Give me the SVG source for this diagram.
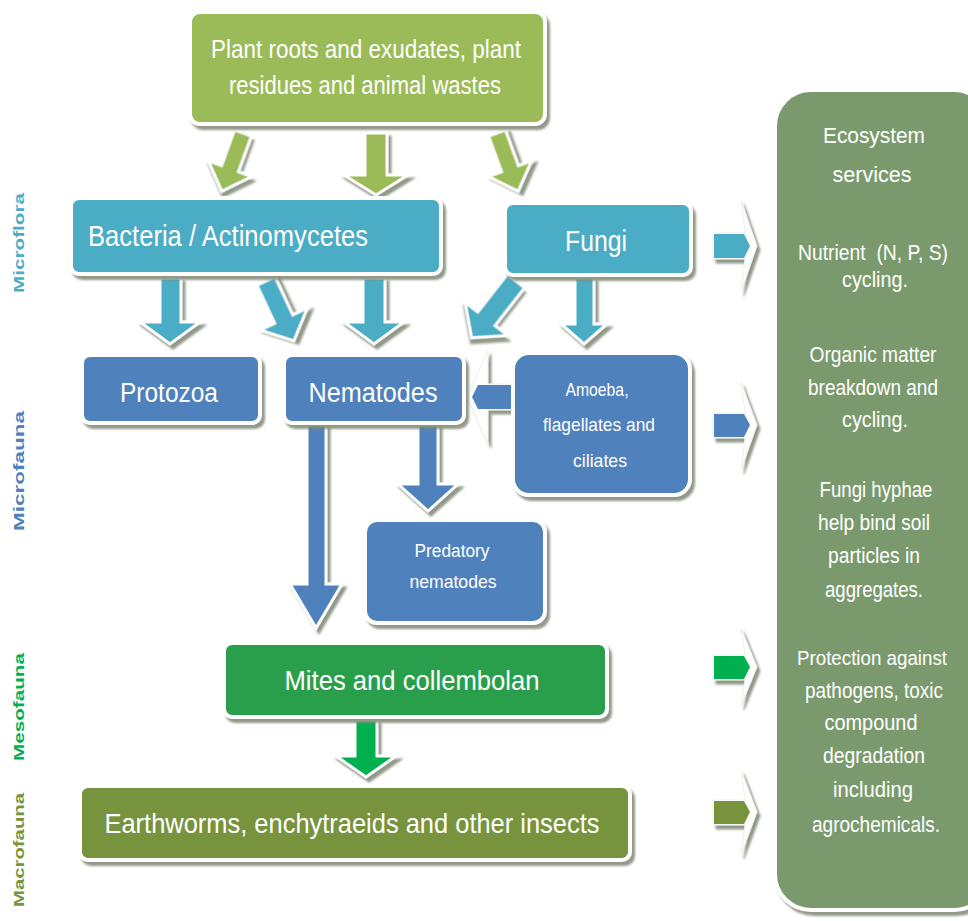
<svg xmlns="http://www.w3.org/2000/svg" width="968" height="921" viewBox="0 0 968 921">
<defs>
<filter id="sh" x="-10%" y="-10%" width="130%" height="130%">
<feDropShadow dx="3" dy="4" stdDeviation="1" flood-color="#7f8775" flood-opacity="0.85"/>
</filter>
</defs>
<style>
.box{stroke:#ffffff;stroke-width:4;filter:url(#sh)}
.arr{stroke:#ffffff;stroke-width:3;stroke-linejoin:miter;filter:url(#sh)}
.hd{fill:#ffffff;stroke:#eef0ea;stroke-width:1;filter:url(#sh)}
.t{font-family:"Liberation Sans",Arial,sans-serif;fill:#ffffff;text-anchor:middle}
.side{font-family:"Liberation Sans",Arial,sans-serif;font-weight:bold;font-size:15px;text-anchor:middle}
.g1{fill:#9BBB59}.c1{fill:#4BACC6}.b1{fill:#4F81BD}.m1{fill:#2A9F4B}.m2{fill:#00B050}.e1{fill:#77933C}.s1{fill:#7A9A6E}
</style>
<rect width="968" height="921" fill="#ffffff"/>

<g id="side-labels">
<text class="side" fill="#4BACC6" transform="translate(24,243) rotate(-90)" textLength="100" lengthAdjust="spacingAndGlyphs">Microflora</text>
<text class="side" fill="#4F81BD" transform="translate(24,471) rotate(-90)" textLength="120" lengthAdjust="spacingAndGlyphs">Microfauna</text>
<text class="side" fill="#00B050" transform="translate(24,707) rotate(-90)" textLength="108" lengthAdjust="spacingAndGlyphs">Mesofauna</text>
<text class="side" fill="#77933C" transform="translate(24,850) rotate(-90)" textLength="114" lengthAdjust="spacingAndGlyphs">Macrofauna</text>
</g>

<g id="connectors">
<polygon class="arr g1" transform="translate(243,133) rotate(20)" points="-9,0 9,0 9,38 23,38 0,62 -23,38 -9,38"/>
<polygon class="arr g1" points="365,133 387,133 387,175 408,175 376,195 344,175 365,175"/>
<polygon class="arr g1" transform="translate(497,133) rotate(-20)" points="-9,0 9,0 9,38 23,38 0,62 -23,38 -9,38"/>
<polygon class="arr c1" points="160,278 181,278 181,322 200,322 170,344 140,322 160,322"/>
<polygon class="arr c1" transform="translate(266,281) rotate(-25)" points="-10,0 10,0 10,42 26,42 0,66 -26,42 -10,42"/>
<polygon class="arr c1" points="363,278 385,278 385,322 404,322 374,344 344,322 363,322"/>
<polygon class="arr c1" transform="translate(516,281) rotate(38)" points="-11,0 11,0 11,48 27,48 0,72 -27,48 -11,48"/>
<polygon class="arr c1" points="575,278 594,278 594,324 607,324 584,344 561,324 575,324"/>
<polygon class="hd" points="515,384 488,384 488,350 467,397 488,444 488,410 515,410"/>
<polygon class="b1" points="515,385 478,385 472,397 478,409 515,409"/>
<polygon class="arr b1" points="307,425 326,425 326,584 342,584 316,628 290,584 307,584"/>
<polygon class="arr b1" points="418,425 438,425 438,484 458,484 428,511 398,484 418,484"/>
<polygon class="arr m2" points="355,720 377,720 377,756 396,756 366,777 336,756 355,756"/>
<polygon class="hd" points="713,233 745,233 741,200 757,246 741,292 745,259 713,259"/>
<polygon class="c1" points="714,234 744,234 750,246 744,258 714,258"/>
<polygon class="hd" points="713,413 745,413 741,382 757,425 741,470 745,438 713,438"/>
<polygon class="b1" points="714,414 744,414 750,425 744,437 714,437"/>
<polygon class="hd" points="713,655 745,655 741,628 757,667 741,706 745,680 713,680"/>
<polygon class="m2" points="714,656 744,656 750,667 744,679 714,679"/>
<polygon class="hd" points="713,800 745,800 741,770 757,812 741,855 745,825 713,825"/>
<polygon class="e1" points="714,801 744,801 750,812 744,824 714,824"/>
</g>

<g id="plant">
<rect class="box g1" x="190" y="12" width="355" height="112" rx="10"/>
<text class="t" x="366" y="58" font-size="25" textLength="310" lengthAdjust="spacingAndGlyphs">Plant roots and exudates, plant</text>
<text class="t" x="365" y="94" font-size="25" textLength="272" lengthAdjust="spacingAndGlyphs">residues and animal wastes</text>
</g>

<g id="bacteria">
<rect class="box c1" x="71" y="198" width="370" height="76" rx="8"/>
<text class="t" x="88" y="246" font-size="29" style="text-anchor:start" textLength="280" lengthAdjust="spacingAndGlyphs">Bacteria / Actinomycetes</text>
</g>

<g id="fungi">
<rect class="box c1" x="505" y="203" width="186" height="72" rx="8"/>
<text class="t" x="596" y="251" font-size="29" textLength="62" lengthAdjust="spacingAndGlyphs">Fungi</text>
</g>

<g id="protozoa">
<rect class="box b1" x="82" y="355" width="178" height="68" rx="8"/>
<text class="t" x="169" y="402" font-size="27" textLength="98" lengthAdjust="spacingAndGlyphs">Protozoa</text>
</g>

<g id="nematodes">
<rect class="box b1" x="284" y="355" width="180" height="68" rx="8"/>
<text class="t" x="373" y="402" font-size="27" textLength="129" lengthAdjust="spacingAndGlyphs">Nematodes</text>
</g>

<g id="amoeba">
<rect class="box b1" x="513" y="353" width="177" height="142" rx="16"/>
<text class="t" x="597" y="396" font-size="19" textLength="63" lengthAdjust="spacingAndGlyphs">Amoeba,</text>
<text class="t" x="599" y="431" font-size="19" textLength="112" lengthAdjust="spacingAndGlyphs">flagellates and</text>
<text class="t" x="600" y="467" font-size="19" textLength="54" lengthAdjust="spacingAndGlyphs">ciliates</text>
</g>

<g id="predatory">
<rect class="box b1" x="365" y="520" width="180" height="103" rx="12"/>
<text class="t" x="452" y="557" font-size="19" textLength="75" lengthAdjust="spacingAndGlyphs">Predatory</text>
<text class="t" x="453" y="588" font-size="19" textLength="87" lengthAdjust="spacingAndGlyphs">nematodes</text>
</g>

<g id="mites">
<rect class="box m1" x="224" y="643" width="383" height="74" rx="8"/>
<text class="t" x="412" y="690" font-size="28" textLength="255" lengthAdjust="spacingAndGlyphs">Mites and collembolan</text>
</g>

<g id="earthworms">
<rect class="box e1" x="80" y="786" width="550" height="74" rx="8"/>
<text class="t" x="352" y="833" font-size="28" textLength="495" lengthAdjust="spacingAndGlyphs">Earthworms, enchytraeids and other insects</text>
</g>

<g id="ecosystem">
<rect class="box s1" x="775" y="90" width="215" height="820" rx="36"/>
<g class="t" font-size="22">
<text x="874" y="143" textLength="102" lengthAdjust="spacingAndGlyphs">Ecosystem</text>
<text x="872" y="182" textLength="79" lengthAdjust="spacingAndGlyphs">services</text>
<text x="873" y="260" textLength="150" lengthAdjust="spacingAndGlyphs" xml:space="preserve">Nutrient  (N, P, S)</text>
<text x="875" y="287" textLength="66" lengthAdjust="spacingAndGlyphs">cycling.</text>
<text x="873" y="362" textLength="127" lengthAdjust="spacingAndGlyphs">Organic matter</text>
<text x="873" y="395" textLength="130" lengthAdjust="spacingAndGlyphs">breakdown and</text>
<text x="875" y="427" textLength="66" lengthAdjust="spacingAndGlyphs">cycling.</text>
<text x="876" y="497" textLength="113" lengthAdjust="spacingAndGlyphs">Fungi hyphae</text>
<text x="874" y="530" textLength="112" lengthAdjust="spacingAndGlyphs">help bind soil</text>
<text x="874" y="563" textLength="92" lengthAdjust="spacingAndGlyphs">particles in</text>
<text x="874" y="597" textLength="98" lengthAdjust="spacingAndGlyphs">aggregates.</text>
<text x="872" y="665" font-size="20" textLength="150" lengthAdjust="spacingAndGlyphs">Protection against</text>
<text x="874" y="698" textLength="138" lengthAdjust="spacingAndGlyphs">pathogens, toxic</text>
<text x="871" y="730" textLength="93" lengthAdjust="spacingAndGlyphs">compound</text>
<text x="874" y="763" textLength="102" lengthAdjust="spacingAndGlyphs">degradation</text>
<text x="873" y="797" textLength="80" lengthAdjust="spacingAndGlyphs">including</text>
<text x="876" y="832" textLength="128" lengthAdjust="spacingAndGlyphs">agrochemicals.</text>
</g>
</g>
</svg>
